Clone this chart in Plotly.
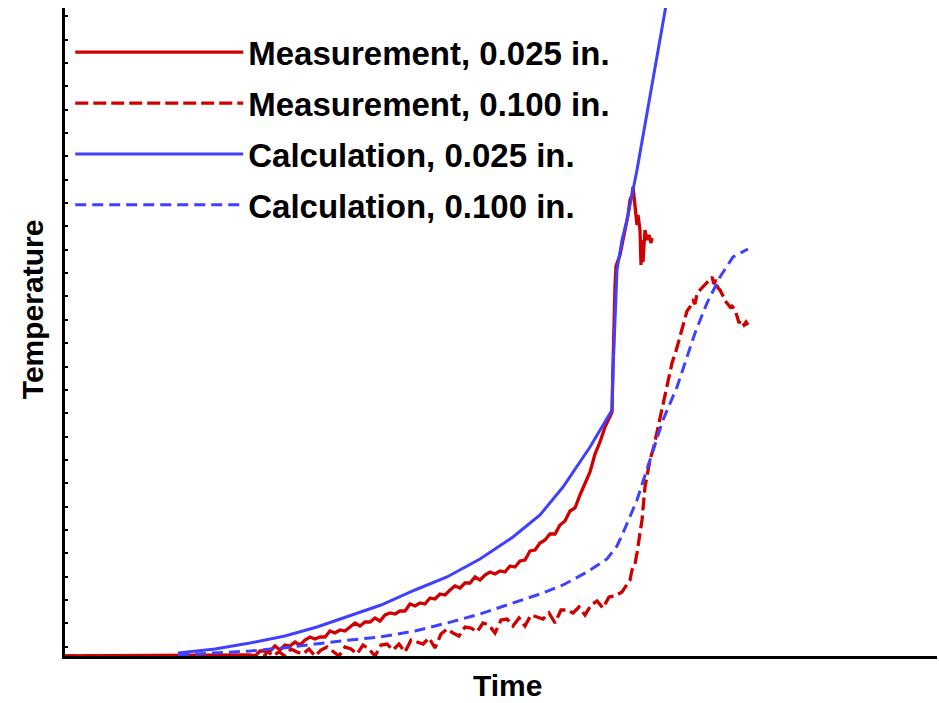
import plotly.graph_objects as go

# Time / temperature in arbitrary units (axes are unlabeled)
meas025_t = [0, 185, 190, 195, 200, 205, 210, 215, 220, 225, 230, 235, 240, 245, 250, 255, 260, 265, 270,
             275, 280, 285, 290, 295, 300, 305, 310, 315, 320, 325, 330, 335, 340, 345, 350, 355, 360, 365,
             370, 375, 380, 385, 390, 395, 400, 405, 410, 415, 420, 425, 430, 435, 440, 445, 450, 455, 460,
             465, 470, 475, 480, 485, 490, 495, 500, 505, 510, 515, 520, 525, 530, 535, 540, 545, 547,
             548, 549, 550, 551, 553, 555, 558, 561, 563, 565, 567, 568, 570, 572, 573, 575, 576, 577, 578,
             580, 582, 584, 586, 587]
meas025_T = [0, 1, 0, 5, 5, 5, 10, 6, 11, 10, 14, 11, 16, 19, 17, 19, 19, 25, 23,
             26, 25, 29, 33, 30, 34, 34, 38, 35, 41, 43, 42, 45, 45, 52, 50, 53, 52, 58,
             57, 62, 61, 66, 70, 68, 73, 73, 79, 76, 81, 84, 82, 85, 84, 90, 89, 95, 96,
             105, 106, 113, 116, 122, 122, 131, 135, 145, 148, 161, 172, 184, 202, 214, 229, 239, 244,
             290, 340, 370, 390, 396, 401, 416, 431, 441, 456, 461, 469, 446, 431, 441, 426, 391, 416, 394,
             426, 416, 421, 413, 418]

meas100_t = [0, 200, 202, 208, 214, 220, 226, 232, 238, 244, 250, 256, 262, 268, 274, 280, 286, 292, 298,
             304, 310, 316, 322, 328, 334, 340, 346, 352, 358, 364, 370, 376, 382, 388, 394, 400, 406, 412,
             418, 424, 430, 436, 442, 448, 454, 460, 466, 472, 478, 484, 490, 496, 502, 508, 514, 520, 526,
             532, 538, 544, 550, 557, 562, 565, 567, 570, 572, 575, 577, 580, 585, 589, 593, 598, 602, 607,
             611, 615, 618, 620, 622, 625, 628, 630, 632, 635, 638, 641, 644, 647, 649, 651, 653, 655, 658,
             660, 662, 665, 667, 670, 672, 674, 676, 679, 681, 683]
meas100_T = [0, 0, 5, 0, 4, 0, 7, 4, 2, 7, 0, 6, 9, 4, 0, 9, 7, 2, 11,
             7, 0, 11, 12, 6, 12, 4, 16, 14, 12, 18, 8, 22, 27, 23, 20, 29, 28, 24,
             33, 31, 23, 36, 37, 30, 38, 30, 41, 39, 37, 43, 33, 46, 46, 43, 49, 41, 51,
             55, 48, 59, 60, 64, 71, 76, 86, 92, 103, 120, 136, 169, 196, 210, 229, 250, 269, 293,
             305, 319, 330, 338, 345, 349, 355, 352, 362, 366, 369, 372, 376, 379, 372, 376, 368, 366, 360,
             355, 353, 349, 350, 346, 340, 333, 336, 331, 334, 331]

calc025_t = [113, 150, 185, 220, 252, 285, 316, 350, 382, 415, 448, 475, 498, 525, 547,
             548, 552, 557, 562, 572, 585, 595, 603]
calc025_T = [3, 7, 13, 20, 29, 40, 51, 66, 79, 97, 119, 141, 169, 209, 246,
             286, 386, 416, 436, 486, 561, 616, 662]

calc100_t = [113, 150, 185, 218, 250, 285, 315, 350, 382, 415, 448, 475, 498, 522, 542, 552, 558,
             565, 572, 585, 598, 612, 620, 630, 642, 655, 668, 683]
calc100_T = [1, 3, 5, 8, 12, 16, 19, 25, 33, 42, 53, 62, 71, 84, 97, 110, 123,
             139, 156, 196, 236, 269, 293, 323, 353, 379, 399, 407]

names = ["Measurement, 0.025 in.", "Measurement, 0.100 in.",
         "Calculation, 0.025 in.", "Calculation, 0.100 in."]

RED = "#d00000"
BLUE = "#4040ff"
FONT = "Liberation Sans, Arial, sans-serif"

fig = go.Figure()
series = [
    (meas025_t, meas025_T, RED, "solid", 3.3),
    (meas100_t, meas100_T, RED, "13px,5px", 3.3),
    (calc025_t, calc025_T, BLUE, "solid", 3),
    (calc100_t, calc100_T, BLUE, "11px,6px", 3),
]
for i, (t, T, c, d, w) in enumerate(series):
    fig.add_trace(go.Scatter(
        x=t, y=T, mode="lines", name=names[i], legendgroup=f"g{i}",
        line=dict(color=c, width=w, dash=d),
    ))

fig.update_layout(
    width=939, height=703,
    margin=dict(l=65, r=2, t=8, b=47),
    plot_bgcolor="white", paper_bgcolor="white",
    font=dict(family=FONT, color="black"),
    showlegend=True,
    legend=dict(
        x=0.006, y=0.975, xanchor="left", yanchor="top",
        bgcolor="rgba(0,0,0,0)", borderwidth=0,
        font=dict(size=33, family=FONT, color="black", weight="bold"),
        itemwidth=168, tracegroupgap=5, traceorder="grouped",
    ),
    xaxis=dict(range=[0, 872], showline=True, linecolor="black", linewidth=3,
               showgrid=False, zeroline=False, showticklabels=False, ticks=""),
    yaxis=dict(range=[0, 648], showline=True, linecolor="black", linewidth=3,
               showgrid=False, zeroline=False, showticklabels=False,
               ticks="inside", tick0=9.3, dtick=23.35, ticklen=3, tickwidth=1.5,
               tickcolor="black"),
    annotations=[
        dict(text="<b>Time</b>", x=0.508, xref="paper", yref="paper",
             xanchor="center", yanchor="middle", y=-0.046, showarrow=False,
             font=dict(size=30, family=FONT, color="black")),
        dict(text="<b>Temperature</b>", x=-0.038, y=0.535, xref="paper", yref="paper",
             xanchor="center", yanchor="middle", textangle=-90, showarrow=False,
             font=dict(size=30, family=FONT, color="black")),
    ],
)

fig.write_html("out.html", config={"displayModeBar": False},
               post_script="document.body.style.margin='0px';")
